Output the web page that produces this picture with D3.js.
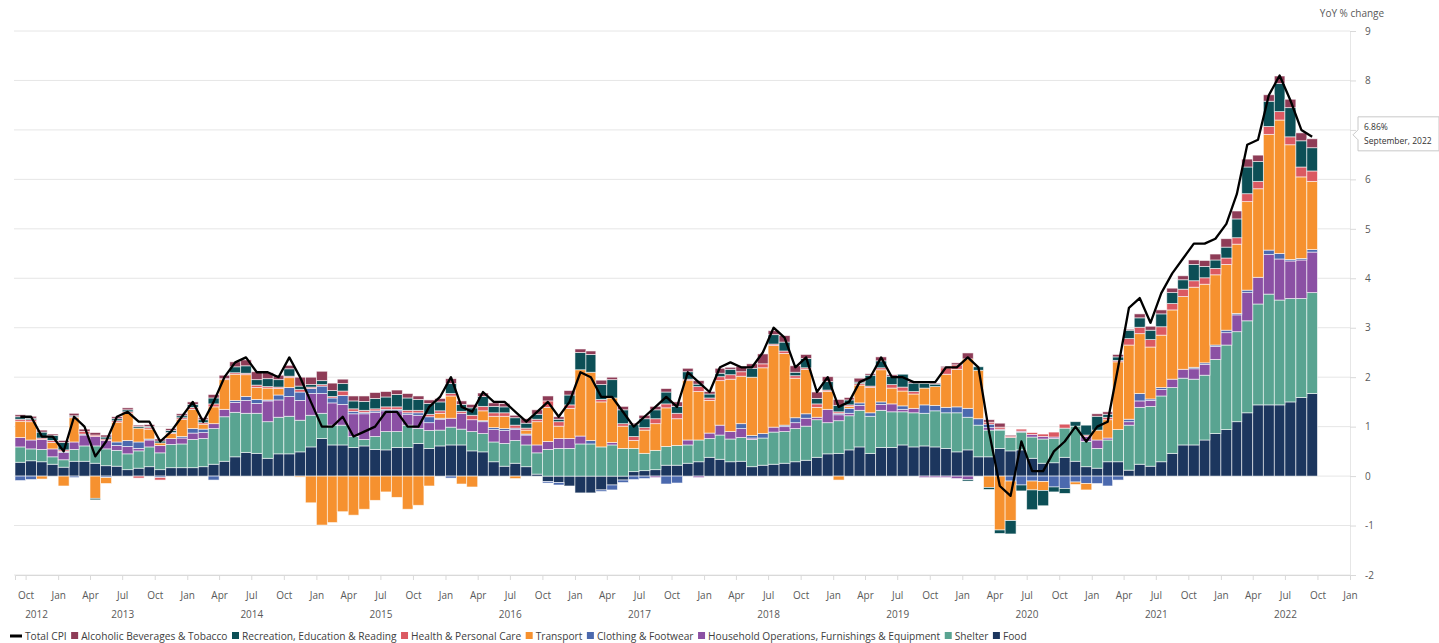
<!DOCTYPE html>
<html>
<head>
<meta charset="utf-8">
<script src="https://cdn.jsdelivr.net/npm/d3@7"></script>
<style>
  body { margin: 0; background: #fff; }
  text { font-family: "Open Sans", sans-serif; }
</style>
</head>
<body>
<div id="chart"></div>
<script>
// Data: monthly contributions to YoY CPI change (pp), Sep 2012 - Sep 2022
const firstMonth = new Date(2012, 8, 1);

const food = [
  0.28, 0.31, 0.29, 0.24,
  0.18, 0.30, 0.30, 0.26, 0.21, 0.20, 0.13, 0.16, 0.19, 0.13, 0.17, 0.17,
  0.17, 0.19, 0.24, 0.30, 0.39, 0.48, 0.46, 0.36, 0.45, 0.45, 0.49, 0.59,
  0.76, 0.63, 0.63, 0.58, 0.61, 0.54, 0.53, 0.58, 0.58, 0.66, 0.56, 0.61,
  0.63, 0.63, 0.51, 0.49, 0.29, 0.20, 0.26, 0.19, 0.04, -0.11, -0.13, -0.20,
  -0.34, -0.34, -0.28, -0.18, -0.08, 0.09, 0.11, 0.13, 0.22, 0.22, 0.26, 0.29,
  0.38, 0.34, 0.29, 0.30, 0.19, 0.22, 0.24, 0.26, 0.29, 0.32, 0.38, 0.45,
  0.46, 0.53, 0.59, 0.46, 0.58, 0.58, 0.63, 0.59, 0.61, 0.59, 0.56, 0.49,
  0.53, 0.39, 0.39, 0.56, 0.51, 0.53, 0.36, 0.26, 0.27, 0.38, 0.30, 0.19,
  0.16, 0.29, 0.29, 0.12, 0.24, 0.20, 0.29, 0.46, 0.63, 0.63, 0.73, 0.86,
  0.94, 1.10, 1.28, 1.44, 1.44, 1.44, 1.50, 1.59, 1.67
];
const shelter = [
  0.31, 0.24, 0.25, 0.15,
  0.15, 0.24, 0.31, 0.35, 0.34, 0.32, 0.32, 0.35, 0.40, 0.34, 0.47, 0.48,
  0.57, 0.57, 0.72, 0.90, 0.90, 0.79, 0.81, 0.74, 0.74, 0.76, 0.64, 0.64,
  0.51, 0.40, 0.40, 0.22, 0.13, 0.26, 0.37, 0.32, 0.45, 0.30, 0.36, 0.32,
  0.36, 0.32, 0.39, 0.37, 0.40, 0.46, 0.46, 0.44, 0.43, 0.54, 0.56, 0.56,
  0.65, 0.65, 0.59, 0.63, 0.56, 0.47, 0.35, 0.39, 0.38, 0.40, 0.37, 0.44,
  0.38, 0.49, 0.46, 0.48, 0.55, 0.55, 0.65, 0.64, 0.67, 0.69, 0.76, 0.63,
  0.66, 0.69, 0.74, 0.75, 0.75, 0.72, 0.67, 0.69, 0.66, 0.73, 0.72, 0.79,
  0.66, 0.64, 0.54, 0.37, 0.27, 0.36, 0.43, 0.49, 0.49, 0.59, 0.71, 0.51,
  0.40, 0.44, 0.65, 0.91, 1.15, 1.21, 1.33, 1.33, 1.35, 1.33, 1.31, 1.50,
  1.71, 1.82, 1.86, 2.04, 2.24, 2.12, 2.09, 2.00, 2.04
];
const household = [
  0.19, 0.18, 0.20, 0.16,
  0.15, 0.15, 0.22, 0.19, 0.17, 0.10, 0.15, 0.05, 0.14, 0.15, 0.12, 0.12,
  0.13, 0.12, 0.10, 0.15, 0.20, 0.26, 0.20, 0.42, 0.35, 0.40, 0.40, 0.44,
  0.40, 0.45, 0.42, 0.46, 0.52, 0.49, 0.42, 0.42, 0.22, 0.27, 0.16, 0.22,
  0.18, 0.32, 0.24, 0.24, 0.25, 0.26, 0.22, 0.20, 0.16, 0.16, 0.20, 0.20,
  0.16, 0.00, 0.00, 0.05, 0.00, 0.00, 0.00, -0.03, 0.00, 0.00, 0.10, -0.03,
  0.11, 0.20, 0.15, 0.18, 0.03, 0.00, 0.10, 0.10, 0.12, 0.16, 0.05, 0.27,
  0.12, 0.05, 0.10, 0.00, 0.12, 0.16, 0.05, 0.09, -0.03, -0.03, -0.03, -0.05,
  -0.07, 0.00, 0.05, 0.02, 0.00, 0.02, 0.05, 0.05, 0.03, 0.00, 0.00, 0.10,
  0.17, 0.04, 0.00, 0.07, 0.13, 0.12, 0.13, 0.17, 0.18, 0.21, 0.22, 0.26,
  0.25, 0.34, 0.57, 0.54, 0.80, 0.83, 0.76, 0.78, 0.82
];
const clothing = [
  -0.09, -0.07, 0.00, 0.00,
  0.02, -0.03, 0.02, 0.00, -0.03, 0.07, 0.12, 0.13, 0.02, -0.03, 0.00, 0.03,
  0.09, 0.07, -0.08, 0.00, 0.04, 0.08, 0.08, 0.02, 0.10, 0.18, 0.17, 0.10,
  0.15, 0.10, 0.18, 0.05, 0.03, 0.03, 0.03, 0.03, 0.03, 0.05, 0.12, 0.02,
  -0.04, 0.00, 0.00, 0.02, 0.04, 0.04, 0.03, 0.02, 0.00, -0.03, -0.05, 0.00,
  0.00, 0.07, -0.03, -0.10, -0.05, -0.07, -0.05, 0.00, -0.16, -0.14, 0.00, 0.00,
  0.00, 0.00, 0.00, 0.10, 0.05, 0.09, 0.00, 0.03, 0.10, 0.09, 0.00, 0.00,
  0.03, 0.10, 0.05, 0.07, 0.05, 0.00, 0.07, 0.00, 0.17, 0.11, 0.11, 0.12,
  0.18, 0.13, 0.07, 0.00, -0.10, -0.18, -0.10, -0.11, -0.22, -0.25, -0.12, -0.15,
  -0.15, -0.20, -0.08, 0.05, 0.15, 0.03, 0.04, 0.00, 0.00, 0.03, 0.03, 0.03,
  0.05, 0.03, 0.05, 0.00, 0.09, 0.11, 0.03, 0.03, 0.05
];
const transport = [
  0.33, 0.37, -0.06, 0.13,
  -0.20, 0.49, 0.00, -0.45, -0.12, 0.40, 0.55, 0.28, 0.20, 0.05, 0.10, 0.35,
  0.39, 0.10, 0.34, 0.60, 0.53, 0.44, 0.24, 0.24, 0.13, 0.20, -0.02, -0.54,
  -0.99, -0.94, -0.72, -0.79, -0.67, -0.49, -0.32, -0.43, -0.67, -0.59, -0.20, 0.10,
  0.45, -0.16, -0.22, 0.20, 0.23, 0.25, -0.05, 0.08, 0.47, 0.69, 0.25, 0.61,
  1.34, 1.38, 0.91, 0.90, 0.45, 0.16, 0.47, 0.54, 0.78, 0.54, 1.20, 0.98,
  0.66, 0.90, 1.06, 0.96, 1.18, 1.33, 1.65, 1.45, 0.80, 0.90, 0.20, 0.36,
  -0.08, 0.04, 0.36, 0.51, 0.65, 0.32, 0.30, 0.29, 0.34, 0.38, 0.67, 0.76,
  1.00, 0.98, -0.23, -1.09, -0.80, 0.00, -0.18, -0.18, 0.00, 0.00, -0.05, -0.13,
  0.20, 0.37, 1.37, 1.50, 1.21, 1.05, 1.06, 1.40, 1.47, 1.62, 1.59, 1.42,
  1.33, 1.40, 1.79, 1.79, 2.34, 2.70, 2.32, 1.65, 1.38
];
const health = [
  0.04, 0.04, 0.03, 0.04,
  0.03, 0.02, 0.05, 0.03, 0.03, 0.03, 0.03, -0.04, 0.03, -0.05, 0.02, 0.03,
  0.04, 0.03, 0.06, 0.02, 0.03, 0.03, 0.05, 0.03, 0.03, 0.03, 0.05, 0.03,
  0.03, 0.03, 0.09, 0.05, 0.04, 0.04, 0.05, 0.05, 0.05, 0.05, 0.05, 0.05,
  0.05, 0.04, 0.09, 0.09, 0.07, 0.07, 0.06, 0.04, 0.05, 0.13, 0.09, 0.07,
  0.00, 0.00, 0.05, 0.00, 0.05, 0.08, 0.05, 0.10, 0.08, 0.11, 0.03, 0.10,
  0.05, 0.08, 0.09, 0.09, 0.00, 0.08, 0.03, 0.05, 0.05, 0.03, 0.07, 0.03,
  0.03, 0.03, 0.03, 0.03, 0.04, 0.07, 0.08, 0.05, 0.00, 0.00, 0.13, 0.09,
  0.00, 0.00, 0.04, 0.04, 0.03, 0.04, 0.04, 0.05, 0.10, 0.08, 0.00, 0.03,
  0.00, 0.05, 0.03, 0.13, 0.13, 0.15, 0.17, 0.13, 0.15, 0.13, 0.13, 0.13,
  0.13, 0.13, 0.16, 0.15, 0.16, 0.17, 0.16, 0.20, 0.21
];
const recreation = [
  0.05, 0.03, 0.12, 0.10,
  0.15, 0.02, 0.00, -0.03, 0.04, 0.04, 0.04, 0.03, 0.02, 0.04, 0.04, 0.04,
  0.06, 0.06, 0.12, 0.00, 0.12, 0.15, 0.11, 0.16, 0.15, 0.15, 0.07, 0.05,
  0.08, 0.12, 0.15, 0.16, 0.18, 0.21, 0.20, 0.25, 0.25, 0.22, 0.22, 0.18,
  0.20, 0.14, 0.15, 0.20, 0.13, 0.12, 0.15, 0.10, 0.10, 0.00, 0.05, 0.20,
  0.35, 0.36, 0.30, 0.37, 0.28, 0.24, 0.18, 0.18, 0.24, 0.14, 0.15, 0.05,
  0.08, 0.07, 0.11, 0.00, 0.18, 0.00, 0.19, 0.18, 0.07, 0.19, 0.11, 0.17,
  0.13, 0.10, 0.03, 0.22, 0.14, 0.17, 0.26, 0.17, 0.09, 0.05, 0.00, 0.00,
  -0.03, 0.07, -0.04, -0.07, -0.27, -0.12, -0.40, -0.31, -0.10, -0.10, 0.09, 0.20,
  0.28, 0.06, 0.07, 0.17, 0.19, 0.19, 0.26, 0.22, 0.19, 0.33, 0.23, 0.17,
  0.22, 0.38, 0.54, 0.40, 0.51, 0.57, 0.59, 0.53, 0.47
];
const alcohol = [
  0.04, 0.04, 0.04, 0.03,
  0.04, 0.05, 0.05, 0.05, 0.04, 0.04, 0.04, 0.03, 0.04, 0.04, 0.04, 0.04,
  0.05, 0.04, 0.07, 0.07, 0.10, 0.12, 0.16, 0.12, 0.09, 0.07, 0.18, 0.15,
  0.19, 0.15, 0.09, 0.10, 0.11, 0.12, 0.11, 0.09, 0.09, 0.07, 0.07, 0.07,
  0.10, 0.07, 0.07, 0.07, 0.07, 0.07, 0.05, 0.09, 0.09, 0.10, 0.05, 0.09,
  0.07, 0.07, 0.09, 0.05, 0.07, 0.03, 0.07, 0.07, 0.07, 0.09, 0.07, 0.07,
  0.05, 0.10, 0.04, 0.11, 0.09, 0.20, 0.08, 0.13, 0.13, 0.08, 0.13, 0.10,
  0.12, 0.05, 0.08, 0.03, 0.08, 0.03, 0.00, 0.03, 0.00, 0.02, 0.03, 0.04,
  0.12, 0.00, 0.05, 0.08, 0.02, 0.00, 0.00, 0.00, 0.00, 0.00, 0.00, 0.00,
  0.05, 0.05, 0.05, 0.02, 0.08, 0.08, 0.08, 0.09, 0.08, 0.09, 0.12, 0.12,
  0.17, 0.16, 0.16, 0.13, 0.13, 0.15, 0.17, 0.16, 0.18
];
const totalCPI = [
  1.2, 1.2, 0.8, 0.8,
  0.5, 1.2, 1.0, 0.4, 0.7, 1.2, 1.3, 1.1, 1.1, 0.7, 0.9, 1.2,
  1.5, 1.1, 1.5, 2.0, 2.3, 2.4, 2.1, 2.1, 2.0, 2.4, 2.0, 1.5,
  1.0, 1.0, 1.2, 0.8, 0.9, 1.0, 1.3, 1.3, 1.0, 1.0, 1.4, 1.6,
  2.0, 1.4, 1.3, 1.7, 1.5, 1.5, 1.3, 1.1, 1.3, 1.5, 1.2, 1.5,
  2.1, 2.0, 1.6, 1.6, 1.3, 1.0, 1.2, 1.4, 1.6, 1.4, 2.1, 1.9,
  1.7, 2.2, 2.3, 2.2, 2.2, 2.5, 3.0, 2.8, 2.2, 2.4, 1.7, 2.0,
  1.4, 1.5, 1.9, 2.0, 2.4, 2.0, 2.0, 1.9, 1.9, 1.9, 2.2, 2.2,
  2.4, 2.2, 0.9, -0.2, -0.4, 0.7, 0.1, 0.1, 0.5, 0.7, 1.0, 0.7,
  1.0, 1.1, 2.2, 3.4, 3.6, 3.1, 3.7, 4.1, 4.4, 4.7, 4.7, 4.8,
  5.1, 5.7, 6.7, 6.8, 7.7, 8.1, 7.6, 7.0, 6.86
];

// stack order, bottom to top
const seriesKeys = ["food", "shelter", "household", "clothing", "transport", "health", "recreation", "alcohol"];
const seriesNames = {
  food: "Food",
  shelter: "Shelter",
  household: "Household Operations, Furnishings & Equipment",
  clothing: "Clothing & Footwear",
  transport: "Transport",
  health: "Health & Personal Care",
  recreation: "Recreation, Education & Reading",
  alcohol: "Alcoholic Beverages & Tobacco"
};
const seriesColors = {
  food: "#1c365e",
  shelter: "#59a491",
  household: "#8b50a4",
  clothing: "#4b69ae",
  transport: "#f6912f",
  health: "#db5962",
  recreation: "#0c4f56",
  alcohol: "#8e3c57"
};
const yTicks = [-2, -1, 0, 1, 2, 3, 4, 5, 6, 7, 8, 9];

function draw() {
  const dimensions = {
    width: 1439,
    height: 643,
    gridLeft: 14,
    plotLeft: 15,
    plotRight: 1350,
    top: 31,
    bottom: 575
  };

  const seriesValues = { food, shelter, household, clothing, transport, health, recreation, alcohol };
  const months = d3.timeMonth.range(firstMonth, d3.timeMonth.offset(firstMonth, totalCPI.length));
  const dataset = months.map((date, i) => {
    const row = { date, total: totalCPI[i] };
    seriesKeys.forEach((k) => (row[k] = seriesValues[k][i]));
    return row;
  });
  const last = dataset[dataset.length - 1];

  const svg = d3
    .select("#chart")
    .append("svg")
    .attr("width", dimensions.width)
    .attr("height", dimensions.height);

  // Scales
  const xScale = d3
    .scaleTime()
    .domain([firstMonth, new Date(2023, 0, 1)])
    .range([dimensions.plotLeft, dimensions.plotRight]);

  const yScale = d3
    .scaleLinear()
    .domain([-2, 9])
    .range([dimensions.bottom, dimensions.top]);

  const xStart = (d) => xScale(d.date);
  const xEnd = (d) => xScale(d3.timeMonth.offset(d.date, 1));
  const xMid = (d) => (xStart(d) + xEnd(d)) / 2;

  // Grid
  svg
    .append("g")
    .selectAll("line")
    .data(yTicks)
    .join("line")
    .attr("x1", dimensions.gridLeft)
    .attr("x2", dimensions.plotRight)
    .attr("y1", (d) => yScale(d))
    .attr("y2", (d) => yScale(d))
    .attr("stroke", "#e6e6e6")
    .attr("stroke-width", 1);

  // Y axis (right); the label hidden under the tooltip is left blank
  const hiddenTick = Math.round(last.total);
  const yAxisGroup = svg
    .append("g")
    .attr("transform", `translate(${dimensions.plotRight}, 0)`)
    .call(
      d3
        .axisRight(yScale)
        .tickValues(yTicks)
        .tickSize(6)
        .tickPadding(9)
        .tickFormat((d) => (d === hiddenTick ? "" : d))
    );
  yAxisGroup.select(".domain").attr("stroke", "#e6e6e6");
  yAxisGroup.selectAll(".tick line").attr("stroke", "#d9d9d9");
  yAxisGroup
    .selectAll("text")
    .attr("fill", "#595959")
    .style("font-size", "10px")
    .style("font-family", "Open Sans");

  svg
    .append("text")
    .attr("x", dimensions.plotRight + 2)
    .attr("y", 17)
    .attr("text-anchor", "middle")
    .attr("fill", "#595959")
    .style("font-size", "10px")
    .text("YoY % change");

  // X axis
  const xAxisGroup = svg
    .append("g")
    .attr("transform", `translate(0, ${dimensions.bottom})`)
    .call(
      d3
        .axisBottom(xScale)
        .ticks(d3.timeMonth.every(3))
        .tickFormat(d3.timeFormat("%b"))
        .tickSize(5)
        .tickPadding(12)
    );
  xAxisGroup.select(".domain").attr("stroke", "#d9d9d9");
  xAxisGroup.selectAll(".tick line").attr("stroke", "#d9d9d9");
  xAxisGroup
    .selectAll("text")
    .attr("fill", "#595959")
    .style("font-size", "10px")
    .style("font-family", "Open Sans");

  // year labels, centred on each year's visible span
  const years = d3.range(2012, 2023);
  const [d0, d1] = xScale.domain();
  svg
    .append("g")
    .selectAll("text")
    .data(years)
    .join("text")
    .attr("x", (y) => {
      const a = d3.max([new Date(y, 0, 1), d0]);
      const b = d3.min([new Date(y + 1, 0, 1), d1]);
      return (xScale(a) + xScale(b)) / 2;
    })
    .attr("y", 618)
    .attr("text-anchor", "middle")
    .attr("fill", "#595959")
    .style("font-size", "10px")
    .text((y) => y);

  // Stacked bars (diverging)
  const stack = d3.stack().keys(seriesKeys).offset(d3.stackOffsetDiverging);
  const stacked = stack(dataset);

  svg
    .append("g")
    .selectAll("g")
    .data(stacked)
    .join("g")
    .attr("fill", (s) => seriesColors[s.key])
    .selectAll("rect")
    .data((s) => s)
    .join("rect")
    .attr("x", (d) => xStart(d.data))
    .attr("width", (d) => xEnd(d.data) - xStart(d.data))
    .attr("y", (d) => yScale(d[1]))
    .attr("height", (d) => Math.max(0, yScale(d[0]) - yScale(d[1])))
    .attr("stroke", "#fff")
    .attr("stroke-opacity", 0.7)
    .attr("stroke-width", 0.8);

  // Total CPI line
  const line = d3
    .line()
    .x(xMid)
    .y((d) => yScale(d.total));

  svg
    .append("path")
    .datum(dataset)
    .attr("d", line)
    .attr("fill", "none")
    .attr("stroke", "#000")
    .attr("stroke-width", 2.3)
    .attr("stroke-linejoin", "round");

  // Tooltip on last point
  const tipX = dimensions.plotRight + 8;
  const tipY = yScale(last.total);
  const tip = svg.append("g").attr("transform", `translate(${tipX}, ${tipY})`);
  tip
    .append("path")
    .attr("d", "M0,-20 H81 V14 H0 V3 L-5,-2 L0,-7 Z")
    .attr("fill", "#fff")
    .attr("stroke", "#c8c8c8");
  tip
    .append("text")
    .attr("x", 6)
    .attr("y", -7)
    .attr("fill", "#333")
    .style("font-size", "8.5px")
    .text(`${d3.format(".2f")(last.total)}%`);
  tip
    .append("text")
    .attr("x", 6)
    .attr("y", 7)
    .attr("fill", "#333")
    .style("font-size", "8.5px")
    .text(d3.timeFormat("%B, %Y")(last.date));

  // Legend
  const legend = svg.append("g").attr("transform", "translate(10, 636)");
  const legendItems = ["total", ...seriesKeys.slice().reverse()];
  let cursor = 0;
  legendItems.forEach((key) => {
    const item = legend.append("g").attr("transform", `translate(${cursor}, 0)`);
    if (key === "total") {
      item.append("rect").attr("x", 0).attr("y", -1.5).attr("width", 12).attr("height", 3).attr("fill", "#000");
    } else {
      item.append("rect").attr("x", 3).attr("y", -4).attr("width", 7).attr("height", 7).attr("fill", seriesColors[key]);
    }
    const label = item
      .append("text")
      .attr("x", key === "total" ? 15 : 13)
      .attr("y", 3.5)
      .attr("fill", "#404040")
      .style("font-size", "10.2px")
      .text(key === "total" ? "Total CPI" : seriesNames[key]);
    cursor += (key === "total" ? 15 : 13) + label.node().getComputedTextLength() + 1.5;
  });
}

draw();
</script>
</body>
</html>
